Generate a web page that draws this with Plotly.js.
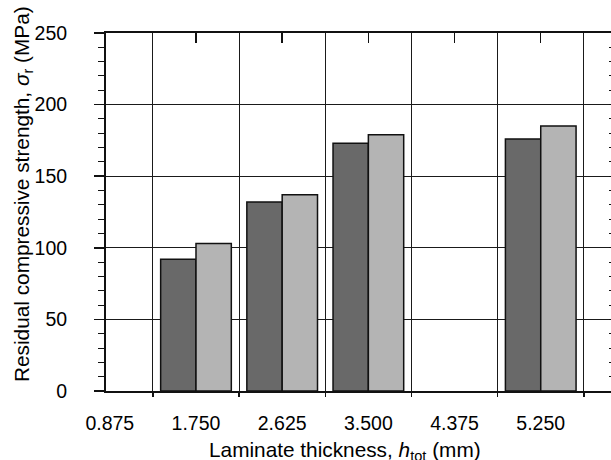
<!DOCTYPE html>
<html>
<head>
<meta charset="utf-8">
<script src="https://cdn.plot.ly/plotly-3.0.1.min.js"></script>
<style>
  html, body { margin: 0; padding: 0; background: #fff; overflow: hidden; }
  #chart { width: 614px; height: 460px; }
</style>
</head>
<body>
<div id="chart"></div>
<script>
// Laminate thickness categories (mm) and their tick labels
const thickness = [0.875, 1.750, 2.625, 3.500, 4.375, 5.250];
const tickLabels = ['0.875', '1.750', '2.625', '3.500', '4.375', '5.250'];
// Residual compressive strength (MPa), two series (dark and light bars)
const strengthDark  = [null, 92, 132, 173, null, 176];
const strengthLight = [null, 103, 137, 179, null, 185];

const yTitle = 'Residual compressive strength, <i>σ</i><sub>r</sub> (MPa)';
const xTitle = 'Laminate thickness, <i>h</i><sub>tot</sub> (mm)';

// category boundaries (midpoints between categories) for the vertical grid
const step = thickness[1] - thickness[0];
const boundaries = thickness.map(t => t + step / 2);
// top inward ticks at the category centres (the first one coincides with the left axis)
const topTicks = thickness.slice(1);

const FAMILY = 'Liberation Sans, Arial, sans-serif';
const TICKFONT = { family: FAMILY, size: 19.5, color: '#000' };
const TITLEFONT = { family: FAMILY, size: 20.8, color: '#000' };
const LINE = '#111';

const traces = [
  { type: 'bar', name: 'Series 1', x: thickness, y: strengthDark,
    marker: { color: '#696969', line: { color: LINE, width: 1.5 } } },
  { type: 'bar', name: 'Series 2', x: thickness, y: strengthLight,
    marker: { color: '#b4b4b4', line: { color: LINE, width: 1.5 } } },
  // carriers (draw nothing) so the overlay axes for grid / top / right ticks are rendered
  { type: 'scatter', mode: 'none', x: thickness, y: strengthDark, xaxis: 'x2', yaxis: 'y', hoverinfo: 'skip' },
  { type: 'scatter', mode: 'none', x: thickness, y: strengthDark, xaxis: 'x3', yaxis: 'y', hoverinfo: 'skip' },
  { type: 'scatter', mode: 'none', x: thickness, y: strengthDark, xaxis: 'x', yaxis: 'y2', hoverinfo: 'skip' }
];

const pxPerUnit = 98.5;
const x0 = thickness[0] - 3.8 / pxPerUnit;
const x1 = x0 + 507 / pxPerUnit;

const layout = {
  width: 614, height: 460,
  margin: { l: 106, r: 1, t: 33, b: 69 },
  paper_bgcolor: '#fff', plot_bgcolor: '#fff',
  font: TICKFONT,
  showlegend: false,
  barmode: 'group', bargap: 0.18, bargroupgap: 0,
  xaxis: {
    type: 'linear', range: [x0, x1], autorange: false, fixedrange: true,
    tickmode: 'array', tickvals: thickness, ticktext: tickLabels,
    ticks: '', showgrid: false, zeroline: false,
    showline: true, linecolor: LINE, linewidth: 2, mirror: true,
    tickfont: TICKFONT, ticklabelstandoff: 14
  },
  xaxis2: {
    type: 'linear', overlaying: 'x', anchor: 'y', side: 'bottom',
    range: [x0, x1], autorange: false, fixedrange: true,
    tickmode: 'array', tickvals: boundaries,
    ticks: 'outside', ticklen: 5, tickwidth: 1.5, tickcolor: LINE,
    showticklabels: false, showgrid: true, gridcolor: '#1a1a1a', gridwidth: 1,
    zeroline: false, showline: false
  },
  xaxis3: {
    type: 'linear', overlaying: 'x', anchor: 'y', side: 'top',
    range: [x0, x1], autorange: false, fixedrange: true,
    tickmode: 'array', tickvals: topTicks,
    ticks: 'inside', ticklen: 10, tickwidth: 1.5, tickcolor: LINE,
    showticklabels: false, showgrid: false, zeroline: false, showline: false
  },
  yaxis: {
    range: [0, 250], autorange: false, fixedrange: true, dtick: 50, tick0: 0,
    ticks: 'outside', ticklen: 10, tickwidth: 1.5, tickcolor: LINE,
    minor: { dtick: 10, ticks: 'outside', ticklen: 6, tickwidth: 1, tickcolor: LINE, showgrid: false },
    showgrid: true, gridcolor: '#1a1a1a', gridwidth: 1, zeroline: false,
    showline: true, linecolor: LINE, linewidth: 2, mirror: true,
    tickfont: TICKFONT, ticklabelstandoff: 23
  },
  yaxis2: {
    overlaying: 'y', anchor: 'x', side: 'right',
    range: [0, 250], autorange: false, fixedrange: true, dtick: 10, tick0: 0,
    ticks: 'inside', ticklen: 4, tickwidth: 1, tickcolor: LINE,
    showticklabels: false, showgrid: false, zeroline: false, showline: false
  },
  annotations: [
    { text: yTitle, xref: 'paper', yref: 'paper', x: (23 - 106) / 507, y: (391 - 194) / 358,
      xanchor: 'center', yanchor: 'middle', textangle: -90, showarrow: false, font: TITLEFONT },
    { text: xTitle, xref: 'paper', yref: 'paper', x: (345 - 106) / 507, y: (391 - 451) / 358,
      xanchor: 'center', yanchor: 'middle', showarrow: false, font: TITLEFONT }
  ]
};

Plotly.newPlot('chart', traces, layout, { staticPlot: true, displayModeBar: false });
</script>
</body>
</html>
